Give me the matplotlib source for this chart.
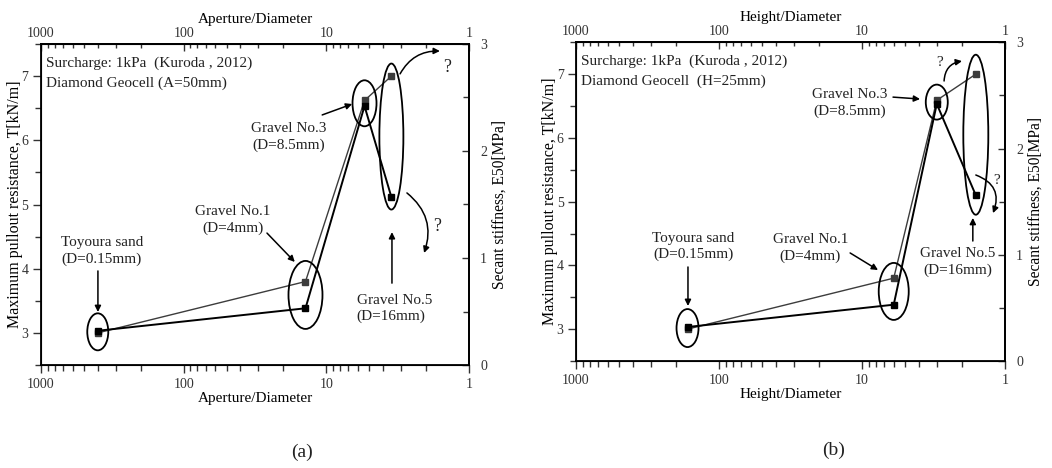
import matplotlib

matplotlib.use("Agg")

import matplotlib.pyplot as plt
from matplotlib.patches import Ellipse
from matplotlib.ticker import (FixedLocator, FuncFormatter, LogLocator,
                               MultipleLocator, NullFormatter)
from matplotlib.transforms import ScaledTranslation

plt.rcParams["font.family"] = ["Liberation Serif", "DejaVu Serif"]
plt.rcParams["text.color"] = "#222222"

# soils tested in the diamond geocell (Kuroda, 2012)
soils = ["Toyoura sand", "Gravel No.1", "Gravel No.3", "Gravel No.5"]
grain_sizes = ["(D=0.15mm)", "(D=4mm)", "(D=8.5mm)", "(D=16mm)"]

# opening size over grain size
aperture_ratio = [400, 14, 5.4, 3.5]
height_ratio = [166, 6.0, 3.0, 1.6]
decades = [1000, 100, 10, 1]

# maximum pullout resistance T [kN/m]
pullout_a = [3.00, 3.80, 6.62, 7.00]
pullout_b = [3.00, 3.80, 6.59, 7.00]

# secant stiffness E50 [MPa]
stiffness_a = [0.32, 0.53, 2.42, 1.57]
stiffness_b = [0.32, 0.53, 2.42, 1.56]

PULLOUT_LIM = (2.5, 7.5)
STIFFNESS_LIM = (0.0, 3.0)
DPI = 100
TEXT_SIZE = 11


def to_pullout_scale(values):
    span = (PULLOUT_LIM[1] - PULLOUT_LIM[0]) / (STIFFNESS_LIM[1] - STIFFNESS_LIM[0])
    return [PULLOUT_LIM[0] + (v - STIFFNESS_LIM[0]) * span for v in values]


def style_log_axis(axis):
    axis.set_major_locator(FixedLocator(decades))
    axis.set_minor_locator(LogLocator(base=10, subs=range(2, 10)))
    axis.set_major_formatter(FuncFormatter(lambda v, _: f"{v:g}"))
    axis.set_minor_formatter(NullFormatter())


def draw_panel(fig, rect, ratio, pullout, stiffness, ratio_label, notes,
               ellipse_px, callouts, queries, tag, tag_xy):
    ax = fig.add_axes(rect)
    ax.set_xscale("log")
    ax.set_xlim(1000, 1)
    ax.set_ylim(*PULLOUT_LIM)
    ax.set_autoscale_on(False)
    style_log_axis(ax.xaxis)
    ax.yaxis.set_major_locator(MultipleLocator(1))
    ax.yaxis.set_minor_locator(MultipleLocator(0.5))
    ax.tick_params(which="both", direction="out", top=False, right=False,
                   labelsize=10, colors="#333333", width=1.0)
    ax.tick_params(which="major", length=5.5)
    ax.tick_params(which="minor", length=4)
    ax.tick_params(axis="y", pad=3.5)
    for spine in ax.spines.values():
        spine.set_linewidth(1.3)
    ax.set_xlabel(ratio_label, fontsize=TEXT_SIZE, labelpad=1)
    ax.set_ylabel("Maximum pullout resistance, T[kN/m]", fontsize=11.5, labelpad=-1)

    top = ax.secondary_xaxis("top")
    style_log_axis(top.xaxis)
    top.tick_params(which="both", direction="in", labelsize=10, colors="#333333",
                    width=1.0, pad=3)
    top.tick_params(which="major", length=5)
    top.tick_params(which="minor", length=3)
    top.spines["top"].set_linewidth(1.3)
    top.set_xlabel(ratio_label, fontsize=TEXT_SIZE, labelpad=3)

    ax2 = ax.twinx()
    ax2.set_ylim(*STIFFNESS_LIM)
    ax2.yaxis.set_major_locator(MultipleLocator(1))
    ax2.yaxis.set_minor_locator(MultipleLocator(0.5))
    ax2.tick_params(which="both", direction="in", labelsize=10, colors="#333333",
                    width=1.0, pad=8)
    ax2.tick_params(which="major", length=5)
    ax2.tick_params(which="minor", length=4)
    ax2.spines["right"].set_linewidth(1.3)
    ax2.set_ylabel("Secant stiffness, E50[MPa]", fontsize=11.2, labelpad=3)

    ax.plot(ratio, pullout, color="#3c3c3c", lw=1.0, marker="s", ms=5,
            mfc="#3c3c3c", mec="#3c3c3c", zorder=3)
    ax2.plot(ratio, stiffness, color="black", lw=1.4, marker="s", ms=5,
             mfc="black", mec="black", zorder=3)

    # ellipses grouping the two measurements of each soil
    stiff_on_left = to_pullout_scale(stiffness)
    for x, t, s, (w, h) in zip(ratio, pullout, stiff_on_left, ellipse_px):
        anchor = ScaledTranslation(x, (t + s) / 2, ax.transData)
        ax.add_patch(Ellipse((0, 0), w / DPI, h / DPI, fill=False, lw=1.3,
                             ec="black", transform=fig.dpi_scale_trans + anchor,
                             clip_on=False, zorder=4))

    for line, y in zip(notes, [0.941, 0.878]):
        ax.text(0.012, y, line, transform=ax.transAxes, fontsize=TEXT_SIZE,
                va="center", ha="left")

    arrow = dict(arrowstyle="-|>", color="black", lw=1.1, mutation_scale=9,
                 shrinkA=0, shrinkB=0)
    for soil, size, (tx, ty), ha, start, end in zip(soils, grain_sizes, *zip(*callouts)):
        ax.text(tx, ty, f"{soil}\n{size}", transform=ax.transAxes, fontsize=TEXT_SIZE,
                ha=ha, va="center", multialignment="center" if ha == "center" else "left",
                linespacing=1.3)
        ax.annotate("", xy=end, xytext=start, xycoords="axes fraction",
                    textcoords="axes fraction", arrowprops=arrow)

    for qpos, qsize, start, end, rad in queries:
        ax.text(*qpos, "?", transform=ax.transAxes, fontsize=qsize,
                ha="center", va="center")
        ax.annotate("", xy=end, xytext=start, xycoords="axes fraction",
                    textcoords="axes fraction",
                    arrowprops=dict(arrow, connectionstyle=f"arc3,rad={rad}"))

    fig.text(tag_xy[0], tag_xy[1], tag, fontsize=14, ha="center", va="center")
    return ax


fig = plt.figure(figsize=(10.52, 4.68), dpi=DPI)

draw_panel(
    fig, [41 / 1052, 103 / 468, 428 / 1052, 321 / 468],
    aperture_ratio, pullout_a, stiffness_a, "Aperture/Diameter",
    ["Surcharge: 1kPa  (Kuroda , 2012)", "Diamond Geocell (A=50mm)"],
    [(21, 37), (34, 68), (24, 46), (24, 146)],
    [
        ((0.1425, 0.355), "center", (0.133, 0.293), (0.133, 0.165)),
        ((0.449, 0.452), "center", (0.528, 0.411), (0.593, 0.321)),
        ((0.579, 0.710), "center", (0.657, 0.779), (0.727, 0.813)),
        ((0.738, 0.176), "left", (0.820, 0.255), (0.820, 0.414)),
    ],
    [
        ((0.949, 0.928), 13, (0.839, 0.907), (0.932, 0.978), -0.3),
        ((0.925, 0.430), 13, (0.855, 0.536), (0.895, 0.349), -0.35),
    ],
    "(a)", (302 / 1052, 1 - 452 / 468),
)

draw_panel(
    fig, [576 / 1052, 107 / 468, 429 / 1052, 318.7 / 468],
    height_ratio, pullout_b, stiffness_b, "Height/Diameter",
    ["Surcharge: 1kPa  (Kuroda , 2012)", "Diamond Geocell  (H=25mm)"],
    [(22, 38), (30, 57), (22, 35), (25, 160)],
    [
        ((0.273, 0.359), "center", (0.261, 0.295), (0.261, 0.1726)),
        ((0.5466, 0.3546), "center", (0.639, 0.339), (0.704, 0.2855)),
        ((0.6375, 0.8095), "center", (0.739, 0.828), (0.802, 0.822)),
        ((0.890, 0.3106), "center", (0.925, 0.3765), (0.925, 0.449)),
    ],
    [
        ((0.8485, 0.938), 11, (0.858, 0.8786), (0.8998, 0.941), -0.4),
        ((0.981, 0.565), 11, (0.932, 0.5836), (0.972, 0.464), -0.5),
    ],
    "(b)", (834 / 1052, 1 - 450 / 468),
)

fig.savefig("out.png", dpi=DPI)
